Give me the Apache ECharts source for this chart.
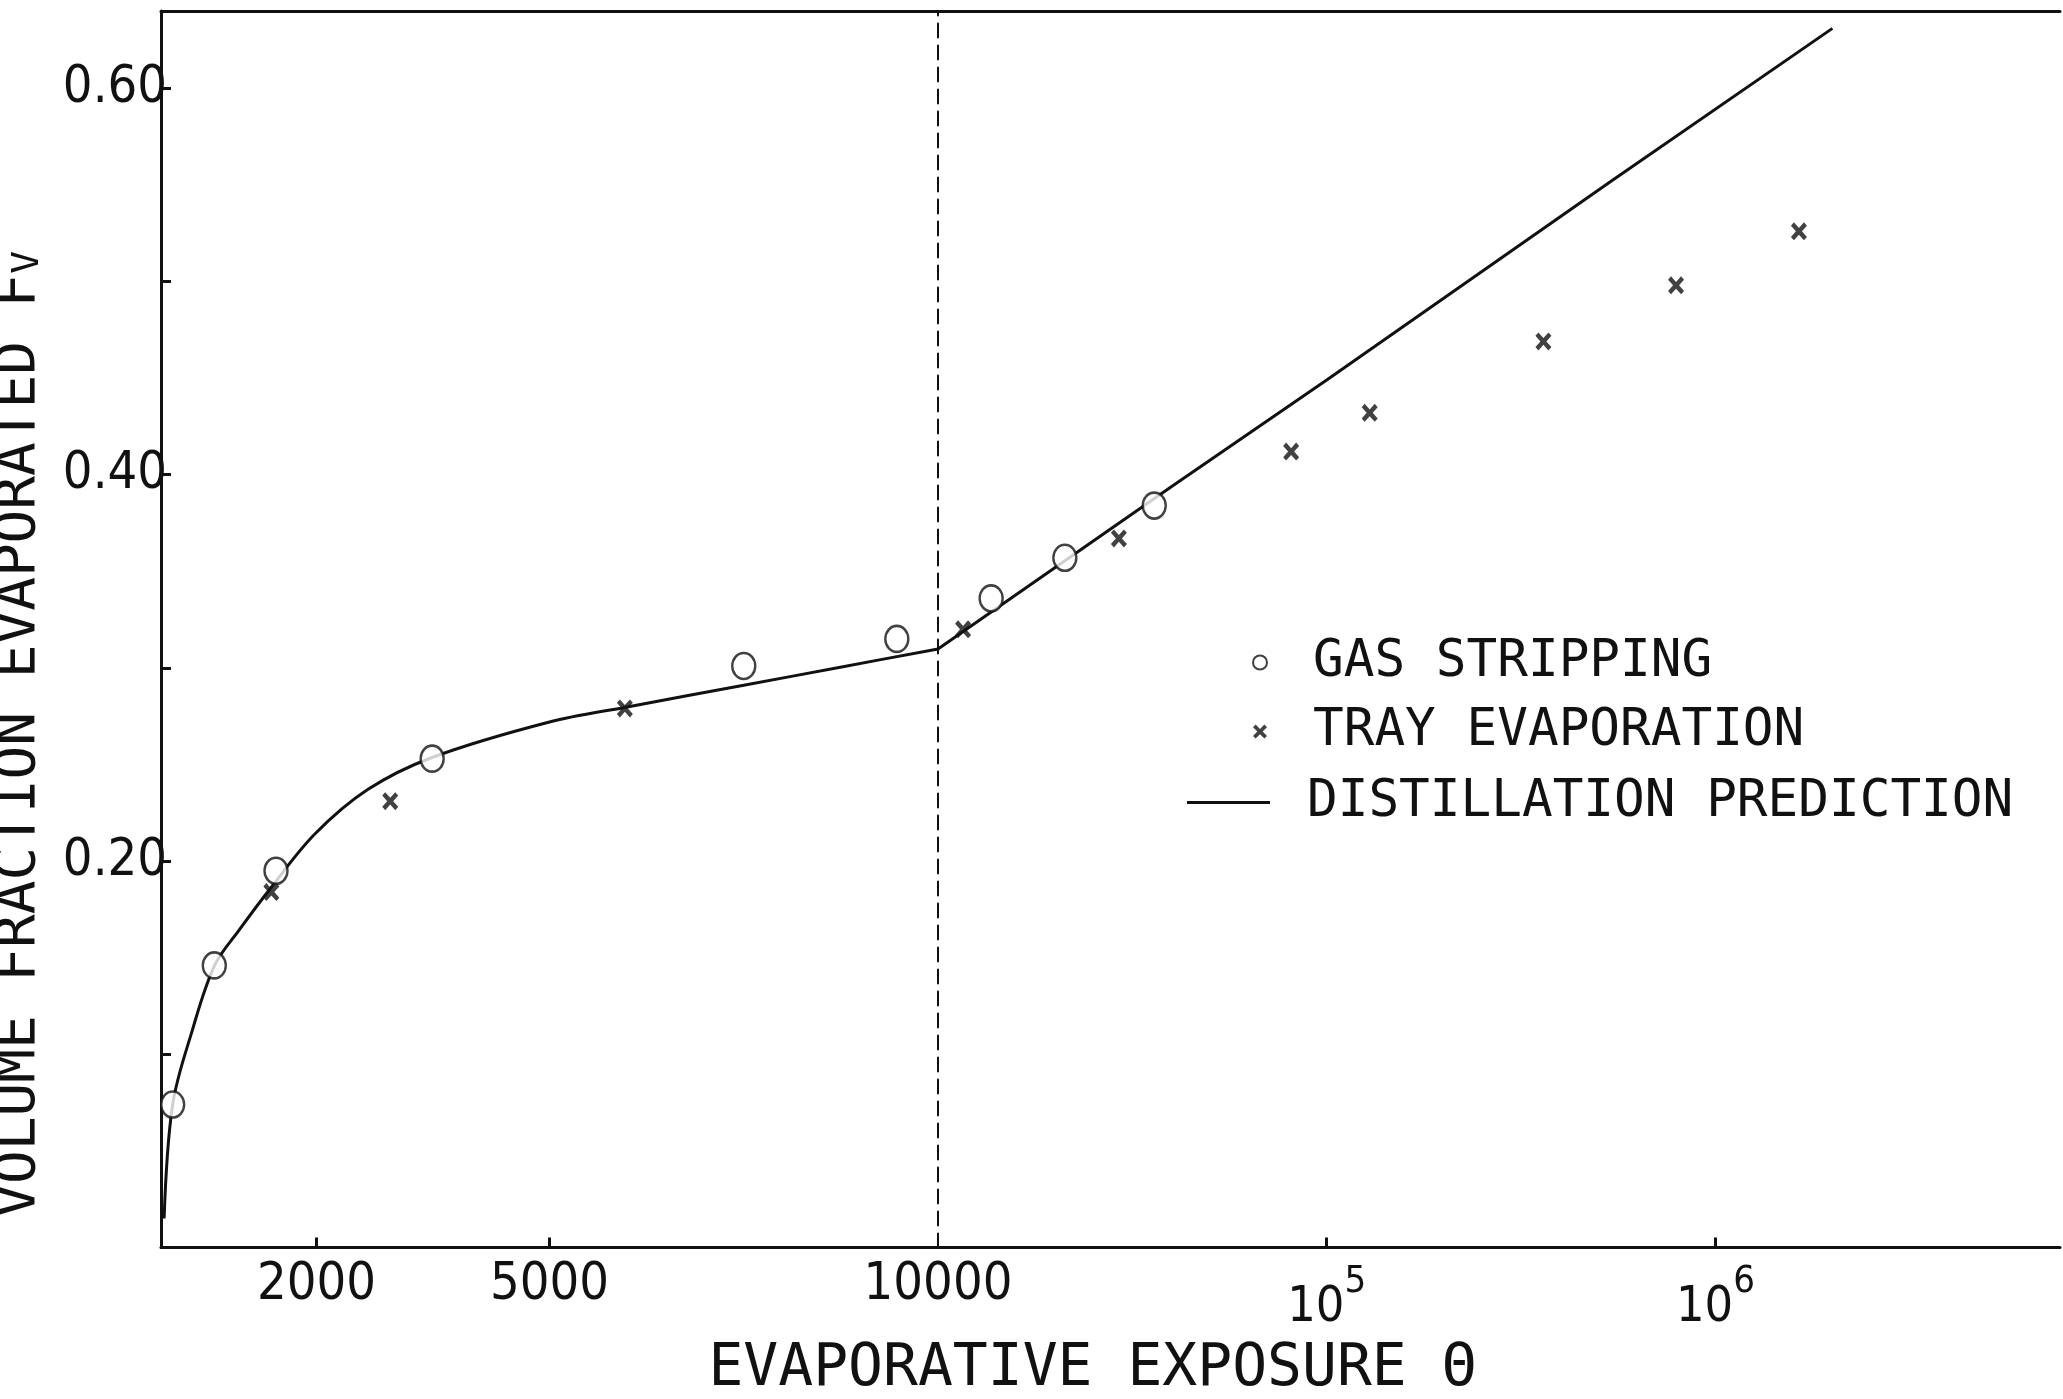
<!DOCTYPE html>
<html>
<head>
<meta charset="utf-8">
<title>Volume fraction evaporated vs evaporative exposure</title>
<script src="https://cdn.jsdelivr.net/npm/echarts@6/dist/echarts.min.js"></script>
<style>
  html, body { margin: 0; padding: 0; background: #fff; }
  #chart { width: 2063px; height: 1399px; }
</style>
</head>
<body>
<div id="chart"></div>
<script>
// exposure theta: up to 10000 on the linear part, above it on the log part
var BREAK = 10000;

var gasStripping = [
    [150, 0.074], [686, 0.146], [1480, 0.195], [3490, 0.253], [7500, 0.301], [9470, 0.315],
    [13700, 0.336], [21200, 0.357], [36000, 0.384]
];
var trayEvaporation = [
    [1420, 0.184], [2950, 0.231], [5970, 0.279],
    [11600, 0.320], [29200, 0.367], [81000, 0.412], [129000, 0.432],
    [361000, 0.469], [792000, 0.498], [1640000, 0.526]
];
var distillation = [
    [40, 0.015], [150, 0.074], [400, 0.112], [690, 0.146], [1000, 0.164], [1430, 0.187],
    [1980, 0.214], [2660, 0.237], [3480, 0.2535], [5000, 0.272], [6000, 0.2798],
    [7500, 0.2910], [8760, 0.3005], [10000, 0.3098],
    [40000, 0.394], [100000, 0.449], [540000, 0.552], [2000000, 0.631]
];

var linearLabels = [2000, 5000, 10000];
var linearTicks = [2000, 5000];
var logLabels = [1e5, 1e6];
var yLabels = [0.2, 0.4, 0.6];
var yTicks = [0.1, 0.2, 0.3, 0.4, 0.5, 0.6];

var GAS = 'GAS STRIPPING';
var TRAY = 'TRAY EVAPORATION';
var DIST = 'DISTILLATION PREDICTION';

var INK = '#111';
var MONO = '"DejaVu Sans Mono", "Liberation Mono", monospace';
var NARROW = '"Liberation Sans Narrow", "DejaVu Sans Condensed", sans-serif';
var CROSS = 'path://M0,3L3,0L8,5L13,0L16,3L11,8L16,13L13,16L8,11L3,16L0,13L5,8Z';
var DASH_ICON = 'path://M0,0H83V3H0Z';

function leftPart(arr) { return arr.filter(function (p) { return p[0] <= BREAK; }); }
function rightPart(arr, withBreak) {
    return arr.filter(function (p) { return withBreak ? p[0] >= BREAK : p[0] > BREAK; });
}

var chart = echarts.init(document.getElementById('chart'));

var axisLine = { show: true, lineStyle: { color: INK, width: 3 } };
var noLine = { show: false };

chart.setOption({
    animation: false,
    backgroundColor: '#fff',
    grid: [
        { left: 161, top: 11, width: 777, bottom: 151.5, outerBoundsMode: 'none' },
        { left: 938, top: 11, right: 3, bottom: 151.5, outerBoundsMode: 'none' }
    ],
    legend: [
        {
            data: [GAS, TRAY],
            orient: 'vertical', left: 1252, top: 637, padding: 0,
            itemWidth: 96, itemHeight: 14, itemGap: 18,
            selectedMode: false,
            textStyle: { fontFamily: MONO, fontSize: 51, color: INK, lineHeight: 50 }
        },
        {
            data: [{ name: DIST, icon: DASH_ICON, itemStyle: { color: INK } }],
            left: 1187, top: 777, padding: 0,
            itemWidth: 83, itemHeight: 14,
            selectedMode: false,
            formatter: function (name) { return '{g|}' + name; },
            textStyle: {
                fontFamily: MONO, fontSize: 51, color: INK, lineHeight: 50,
                rich: { g: { width: 32 } }
            }
        }
    ],
    xAxis: [
        {
            gridIndex: 0, type: 'value', min: 0, max: BREAK, position: 'bottom',
            axisLine: axisLine,
            axisTick: { show: true, inside: true, length: 10, customValues: linearTicks, lineStyle: { color: INK, width: 3 } },
            axisLabel: {
                customValues: linearLabels, fontFamily: NARROW, fontSize: 52, color: INK, margin: 12,
                formatter: function (v) { return String(v); }
            },
            splitLine: noLine,
            name: 'EVAPORATIVE EXPOSURE Θ', nameLocation: 'middle', nameGap: 93, nameMoveOverlap: false,
            nameTextStyle: { fontFamily: MONO, fontSize: 58, color: INK, padding: [0, 0, 0, 1086] }
        },
        {
            gridIndex: 1, type: 'log', logBase: 10, min: 1e4, max: 7.7e6, position: 'bottom',
            axisLine: axisLine,
            axisTick: { show: true, inside: true, length: 10, customValues: logLabels, lineStyle: { color: INK, width: 3 } },
            axisLabel: {
                customValues: logLabels, margin: 16, color: INK,
                formatter: function (v) { return '{b|10}{s|' + Math.round(Math.log10(v)) + '}'; },
                rich: {
                    b: { fontFamily: NARROW, fontSize: 50, color: INK, verticalAlign: 'bottom' },
                    s: { fontFamily: NARROW, fontSize: 38, color: INK, verticalAlign: 'bottom', padding: [0, 0, 32, 0] }
                }
            },
            splitLine: noLine
        },
        {
            gridIndex: 0, type: 'value', min: 0, max: BREAK, position: 'top',
            axisLine: axisLine, axisTick: noLine, axisLabel: noLine, splitLine: noLine
        },
        {
            gridIndex: 1, type: 'log', logBase: 10, min: 1e4, max: 7.7e6, position: 'top',
            axisLine: axisLine, axisTick: noLine, axisLabel: noLine, splitLine: noLine
        }
    ],
    yAxis: [
        {
            gridIndex: 0, type: 'value', min: 0, max: 0.64,
            axisLine: axisLine,
            axisTick: { show: true, inside: true, length: 10, customValues: yTicks, lineStyle: { color: INK, width: 3 } },
            axisLabel: {
                customValues: yLabels, fontFamily: NARROW, fontSize: 52, color: INK, margin: -6,
                formatter: function (v) { return v.toFixed(2); }
            },
            splitLine: noLine,
            name: 'VOLUME FRACTION EVAPORATED F{sub|V}', nameLocation: 'middle', nameRotate: 90,
            nameGap: 114, nameMoveOverlap: false,
            nameTextStyle: {
                fontFamily: MONO, fontSize: 56, color: INK, padding: [0, 210, 0, 0],
                rich: { sub: { fontFamily: MONO, fontSize: 38, color: INK, padding: [18, 0, 0, 0] } }
            }
        },
        {
            gridIndex: 1, type: 'value', min: 0, max: 0.64,
            axisLine: { show: true, lineStyle: { color: INK, width: 2, type: [14, 8] } },
            axisTick: noLine, axisLabel: noLine, splitLine: noLine
        }
    ],
    series: [
        {
            name: DIST, type: 'line', xAxisIndex: 0, yAxisIndex: 0, z: 2,
            data: leftPart(distillation), symbol: 'none', smooth: 0.35,
            lineStyle: { color: INK, width: 3 }, itemStyle: { color: INK }
        },
        {
            name: DIST, type: 'line', xAxisIndex: 1, yAxisIndex: 1, z: 2,
            data: rightPart(distillation, true), symbol: 'none',
            lineStyle: { color: INK, width: 3 }, itemStyle: { color: INK }
        },
        {
            name: GAS, type: 'scatter', xAxisIndex: 0, yAxisIndex: 0, z: 3,
            data: leftPart(gasStripping), symbol: 'circle', symbolSize: [23, 26],
            itemStyle: { color: '#fff', borderColor: INK, borderWidth: 2.5 }
        },
        {
            name: GAS, type: 'scatter', xAxisIndex: 1, yAxisIndex: 1, z: 3,
            data: rightPart(gasStripping), symbol: 'circle', symbolSize: [23, 26],
            itemStyle: { color: '#fff', borderColor: INK, borderWidth: 2.5 }
        },
        {
            name: TRAY, type: 'scatter', xAxisIndex: 0, yAxisIndex: 0, z: 3,
            data: leftPart(trayEvaporation), symbol: CROSS, symbolSize: [16, 18],
            itemStyle: { color: INK }
        },
        {
            name: TRAY, type: 'scatter', xAxisIndex: 1, yAxisIndex: 1, z: 3,
            data: rightPart(trayEvaporation), symbol: CROSS, symbolSize: [16, 18],
            itemStyle: { color: INK }
        }
    ]
});
</script>
</body>
</html>
